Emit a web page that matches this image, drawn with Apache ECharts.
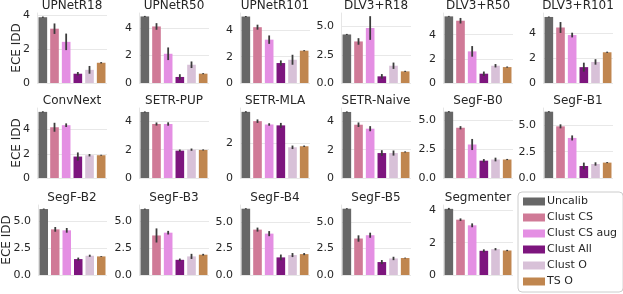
<!DOCTYPE html>
<html><head><meta charset="utf-8">
<script src="https://cdn.jsdelivr.net/npm/echarts@6/dist/echarts.min.js"></script>
<style>html,body{margin:0;padding:0;background:#fff}#c{width:623px;height:294px}</style>
</head><body><div id="c"></div>
<script>
const models = ['UPNetR18','UPNetR50','UPNetR101','DLV3+R18','DLV3+R50','DLV3+R101',
  'ConvNext','SETR-PUP','SETR-MLA','SETR-Naive','SegF-B0','SegF-B1',
  'SegF-B2','SegF-B3','SegF-B4','SegF-B5','Segmenter'];
const methods = ['Uncalib','Clust CS','Clust CS aug','Clust All','Clust O','TS O'];
const colors = ['#676767','#d07a97','#e48fe3','#7d157e','#d8c1d8','#c0864f'];

const uncalib    = [3.90,4.85,5.06,4.30,5.52,5.33,5.46,4.66,3.77,4.66,5.74,6.29,6.17,6.17,6.25,6.25,4.10];
const uncalibErr = [0.04,0.04,0.04,0.05,0.04,0.04,0.05,0.04,0.04,0.04,0.05,0.05,0.05,0.05,0.05,0.05,0.06];
const clustCS    = [3.22,4.12,4.25,3.68,5.16,4.48,4.19,3.81,3.24,3.76,4.35,4.90,4.27,3.70,4.28,3.44,3.43];
const clustCSErr = [0.31,0.24,0.19,0.29,0.23,0.44,0.37,0.11,0.10,0.16,0.14,0.19,0.22,0.66,0.19,0.30,0.08];
const clustAug   = [2.44,2.13,3.30,4.87,2.62,3.87,4.36,3.81,3.05,3.48,2.90,3.80,4.18,3.96,3.90,3.75,3.08];
const clustAugErr= [0.49,0.46,0.32,1.05,0.44,0.19,0.15,0.12,0.07,0.18,0.48,0.24,0.22,0.17,0.24,0.24,0.12];
const clustAll   = [0.55,0.44,1.52,0.59,0.77,1.28,1.77,1.93,3.00,1.76,1.50,1.14,1.49,1.42,1.66,1.22,1.50];
const clustAllErr= [0.10,0.20,0.20,0.20,0.18,0.36,0.34,0.08,0.14,0.20,0.14,0.32,0.14,0.12,0.27,0.19,0.09];
const clustO     = [0.78,1.33,1.77,1.53,1.43,1.70,1.88,2.00,1.75,1.76,1.60,1.33,1.80,1.74,1.88,1.56,1.60];
const clustOErr  = [0.23,0.24,0.38,0.28,0.14,0.22,0.10,0.08,0.10,0.18,0.16,0.16,0.10,0.24,0.19,0.16,0.07];
const tsO        = [1.20,0.68,2.46,1.03,1.32,2.48,1.88,1.98,1.81,1.84,1.60,1.46,1.74,1.90,1.97,1.60,1.52];
const tsOErr     = [0.04,0.04,0.04,0.05,0.05,0.05,0.04,0.04,0.04,0.04,0.05,0.05,0.04,0.08,0.10,0.04,0.04];

const yMax  = [4.15,5.1,5.33,6.2,5.8,5.65,5.78,4.94,3.99,4.94,6.06,6.64,6.55,6.55,6.6,6.6,4.34];
const yStep = [2,2,2,2.5,2,2,2,2,2,2,2.5,2.5,2.5,2.5,2.5,2.5,2];
const yLabel = 'ECE IDD';

const vals = [uncalib, clustCS, clustAug, clustAll, clustO, tsO];
const errs = [uncalibErr, clustCSErr, clustAugErr, clustAllErr, clustOErr, tsOErr];

const colLeft = [37,139,240,341,443,543];
const rowTop = [13,108,205];
const nameGaps = [14,14,25];
const W = 70, H = 70;
const txt = '#262626';
const font = 'DejaVu Sans';

const grid = [], xAxis = [], yAxis = [], series = [], title = [];
models.forEach((m, k) => {
  const r = Math.floor(k / 6), c = k % 6;
  grid.push({left: colLeft[c], top: rowTop[r], width: W, height: H});
  title.push({text: m, left: colLeft[c] + W / 2, top: rowTop[r] - 13, textAlign: 'center', padding: 0,
    textStyle: {fontSize: 12, fontWeight: 'normal', color: txt, fontFamily: font}});
  xAxis.push({type: 'category', gridIndex: k, data: methods,
    axisLine: {show: false}, axisTick: {show: false}, axisLabel: {show: false}, splitLine: {show: false}});
  const step = yStep[k];
  yAxis.push({type: 'value', gridIndex: k, min: 0, max: yMax[k], interval: step,
    name: c === 0 ? yLabel : '', nameLocation: 'middle', nameGap: nameGaps[r], nameRotate: 90,
    nameMoveOverlap: false,
    nameTextStyle: {fontSize: 12, color: txt, fontFamily: font},
    axisLine: {show: true, lineStyle: {color: '#e6e6e6', width: 1}},
    axisTick: {show: false},
    splitLine: {show: true, showMaxLine: false, lineStyle: {color: '#e8e8e8', width: 1}},
    axisLabel: {showMaxLabel: false, fontSize: 11, color: txt, fontFamily: font, margin: 7,
      formatter: v => (Math.abs(v / step - Math.round(v / step)) > 1e-6) ? '' : (step % 1 ? v.toFixed(1) : v.toFixed(0))}
  });
  methods.forEach((name, i) => {
    series.push({type: 'bar', name, xAxisIndex: k, yAxisIndex: k, stack: 's' + k,
      barCategoryGap: '26%', silent: true,
      itemStyle: {color: colors[i]},
      data: methods.map((_, j) => j === i ? vals[i][k] : '-')});
  });
  series.push({type: 'custom', xAxisIndex: k, yAxisIndex: k, silent: true, z: 10,
    encode: {x: 0, y: [1, 2]},
    data: methods.map((_, j) => [j, vals[j][k] - errs[j][k], vals[j][k] + errs[j][k]]),
    renderItem: (params, api) => {
      const p1 = api.coord([api.value(0), api.value(1)]);
      const p2 = api.coord([api.value(0), api.value(2)]);
      return {type: 'line', shape: {x1: p1[0], y1: p1[1], x2: p2[0], y2: p2[1]},
        style: {stroke: '#3c3c3c', lineWidth: 1.8}};
    }});
});

const chart = echarts.init(document.getElementById('c'), null, {renderer: 'canvas'});
chart.setOption({
  animation: false,
  backgroundColor: '#fff',
  textStyle: {fontFamily: font},
  title, grid, xAxis, yAxis, series,
  legend: {data: methods, orient: 'vertical', left: 518, top: 192, selectedMode: false,
    icon: 'rect', itemWidth: 22, itemHeight: 8, itemGap: 3,
    padding: [3, 6, 4, 5], borderColor: '#cccccc', borderWidth: 1, borderRadius: 4,
    textStyle: {fontSize: 11, color: txt, fontFamily: font, lineHeight: 13, padding: [0, 0, 0, -3]}}
});
</script></body></html>
